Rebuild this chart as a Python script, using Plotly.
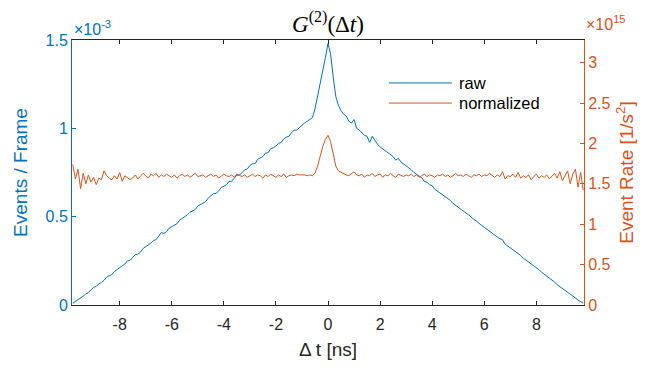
import plotly.graph_objects as go

# time grid (ns), step 0.1 from -9.8 to 9.8
t_start, t_step, n_pts = -9.8, 0.1, 197
dt = [round(t_start + i * t_step, 1) for i in range(n_pts)]

# raw coincidences, in units of 1e-3 events / frame
raw_e3 = [
    0.010, 0.020, 0.030, 0.035, 0.050, 0.062, 0.070, 0.085, 0.100, 0.105,
    0.120, 0.128, 0.140, 0.158, 0.165, 0.172, 0.190, 0.200, 0.215, 0.222,
    0.232, 0.250, 0.252, 0.270, 0.285, 0.288, 0.300, 0.320, 0.330, 0.335,
    0.350, 0.365, 0.370, 0.390, 0.410, 0.405, 0.415, 0.435, 0.445, 0.452,
    0.460, 0.480, 0.490, 0.495, 0.510, 0.525, 0.535, 0.540, 0.560, 0.570,
    0.580, 0.585, 0.605, 0.615, 0.630, 0.632, 0.645, 0.665, 0.672, 0.680,
    0.700, 0.700, 0.718, 0.735, 0.735, 0.752, 0.765, 0.770, 0.790, 0.800,
    0.800, 0.825, 0.835, 0.840, 0.860, 0.862, 0.885, 0.890, 0.900, 0.915,
    0.920, 0.940, 0.950, 0.955, 0.975, 0.990, 0.990, 1.005, 1.020, 1.030,
    1.040, 1.050, 1.060, 1.110, 1.180, 1.250, 1.310, 1.400, 1.480, 1.420,
    1.290, 1.180, 1.130, 1.100, 1.080, 1.070, 1.040, 1.030, 1.050, 1.000,
    0.990, 0.975, 0.960, 0.955, 0.920, 0.955, 0.930, 0.910, 0.895, 0.885,
    0.875, 0.860, 0.850, 0.840, 0.820, 0.830, 0.810, 0.800, 0.787, 0.775,
    0.765, 0.750, 0.740, 0.725, 0.720, 0.700, 0.695, 0.680, 0.675, 0.655,
    0.645, 0.635, 0.620, 0.610, 0.600, 0.592, 0.575, 0.565, 0.555, 0.545,
    0.530, 0.520, 0.510, 0.495, 0.485, 0.475, 0.460, 0.450, 0.440, 0.430,
    0.420, 0.405, 0.400, 0.385, 0.375, 0.370, 0.345, 0.335, 0.325, 0.310,
    0.300, 0.290, 0.280, 0.265, 0.255, 0.245, 0.232, 0.220, 0.210, 0.200,
    0.185, 0.175, 0.165, 0.150, 0.140, 0.130, 0.115, 0.105, 0.095, 0.085,
    0.070, 0.060, 0.050, 0.040, 0.028, 0.018, 0.010,
]

# normalized event rate, in units of 1e15 1/s^2
norm_e15 = [
    1.74, 1.56, 1.68, 1.44, 1.63, 1.50, 1.61, 1.52, 1.58, 1.49,
    1.57, 1.55, 1.66, 1.60, 1.57, 1.55, 1.60, 1.56, 1.64, 1.53,
    1.60, 1.58, 1.55, 1.57, 1.61, 1.56, 1.59, 1.63, 1.60, 1.57,
    1.62, 1.60, 1.63, 1.58, 1.61, 1.59, 1.62, 1.60, 1.58, 1.61,
    1.57, 1.60, 1.62, 1.59, 1.61, 1.58, 1.60, 1.63, 1.59, 1.60,
    1.61, 1.58, 1.60, 1.62, 1.59, 1.61, 1.57, 1.60, 1.62, 1.60,
    1.59, 1.61, 1.58, 1.62, 1.60, 1.59, 1.61, 1.58, 1.60, 1.62,
    1.59, 1.61, 1.60, 1.57, 1.61, 1.59, 1.62, 1.60, 1.58, 1.61,
    1.59, 1.62, 1.58, 1.60, 1.61, 1.60, 1.62, 1.61, 1.61, 1.61,
    1.60, 1.61, 1.60, 1.63, 1.72, 1.85, 1.96, 2.05, 2.10, 2.02,
    1.88, 1.72, 1.66, 1.64, 1.62, 1.61, 1.60, 1.63, 1.65, 1.61,
    1.60, 1.62, 1.58, 1.61, 1.60, 1.63, 1.59, 1.61, 1.62, 1.58,
    1.61, 1.60, 1.63, 1.60, 1.58, 1.62, 1.60, 1.59, 1.61, 1.60,
    1.62, 1.59, 1.61, 1.58, 1.60, 1.62, 1.59, 1.61, 1.60, 1.58,
    1.61, 1.60, 1.62, 1.59, 1.61, 1.58, 1.60, 1.63, 1.60, 1.61,
    1.59, 1.62, 1.60, 1.58, 1.61, 1.60, 1.62, 1.59, 1.61, 1.60,
    1.63, 1.60, 1.58, 1.61, 1.59, 1.65, 1.56, 1.60, 1.59, 1.62,
    1.58, 1.64, 1.57, 1.60, 1.58, 1.61, 1.55, 1.59, 1.62, 1.57,
    1.60, 1.58, 1.61, 1.56, 1.59, 1.63, 1.57, 1.65, 1.54, 1.60,
    1.66, 1.50, 1.62, 1.68, 1.46, 1.64, 1.42,
]

x_ticks = [-8, -6, -4, -2, 0, 2, 4, 6, 8]
x_ticklabels = ["-8", "-6", "-4", "-2", "0", "2", "4", "6", "8"]
left_ticks = [0, 0.5, 1, 1.5]
left_ticklabels = ["0", "0.5", "1", "1.5"]
right_ticks = [0, 0.5, 1, 1.5, 2, 2.5, 3]
right_ticklabels = ["0", "0.5", "1", "1.5", "2", "2.5", "3"]
series_names = ["raw", "normalized"]

BLUE = "#0072BD"
ORANGE = "#D95319"
DARK = "#262626"
FONT = "Liberation Sans, Arial, Helvetica, sans-serif"

raw = [v * 1e-3 for v in raw_e3]
norm = [v * 1e15 for v in norm_e15]

fig = go.Figure()
fig.add_trace(go.Scatter(x=dt, y=raw, mode="lines", name=series_names[0],
                         line=dict(color=BLUE, width=1), showlegend=False))
fig.add_trace(go.Scatter(x=dt, y=norm, mode="lines", name=series_names[1],
                         line=dict(color=ORANGE, width=1), yaxis="y2",
                         showlegend=False))

fig.update_layout(
    width=640, height=361,
    margin=dict(l=64, r=64, t=32, b=64),
    paper_bgcolor="white", plot_bgcolor="white",
    font=dict(family=FONT, size=16, color=DARK),
    xaxis=dict(range=[-9.83, 9.83], tickvals=x_ticks, ticktext=x_ticklabels,
               ticks="inside", ticklen=4,
               tickcolor=DARK, showline=True, linecolor=DARK, linewidth=1,
               mirror="ticks", showgrid=False, zeroline=False,
               ticklabelstandoff=5,
               tickfont=dict(size=16, color=DARK),
               title=dict(text="Δ t [ns]", font=dict(size=19, color=DARK), standoff=10)),
    yaxis=dict(range=[0, 1.5e-3], tickvals=[v * 1e-3 for v in left_ticks],
               ticktext=left_ticklabels, ticks="inside", ticklen=4, tickcolor=BLUE,
               showline=True, linecolor=BLUE, linewidth=1, showgrid=False,
               zeroline=False, tickfont=dict(size=16, color=BLUE),
               title=dict(text="Events / Frame", font=dict(size=19, color=BLUE), standoff=12)),
    yaxis2=dict(range=[0, 3.28e15], tickvals=[v * 1e15 for v in right_ticks],
                ticktext=right_ticklabels, overlaying="y", side="right",
                ticks="inside", ticklen=4, tickcolor=ORANGE, showline=True,
                linecolor=ORANGE, linewidth=1, showgrid=False, zeroline=False,
                tickfont=dict(size=16, color=ORANGE),
                title=dict(text="Event Rate [1/s<sup>2</sup>]", font=dict(size=19, color=ORANGE), standoff=10)),
)

# title as annotation, kept fully inside the page
fig.add_annotation(text="<i>G</i><sup>(2)</sup>(Δ<i>t</i>)", xref="paper", yref="paper",
                   x=0.5, y=1.0, xanchor="center", yanchor="bottom", showarrow=False,
                   yshift=1,
                   font=dict(family="Liberation Serif, DejaVu Serif, serif", size=23, color="black"))

# exponent labels
fig.add_annotation(text="×10<sup>-3</sup>", xref="paper", yref="paper", x=0.0, y=1.0,
                   xanchor="left", yanchor="bottom", showarrow=False,
                   font=dict(size=16, color=BLUE), yshift=0)
fig.add_annotation(text="×10<sup>15</sup>", xref="paper", yref="paper", x=1.0, y=1.0,
                   xanchor="left", yanchor="bottom", showarrow=False,
                   font=dict(size=16, color=ORANGE), yshift=5)

# legend drawn as line samples and labels
leg_y = [0.838, 0.762]
leg_colors = [BLUE, ORANGE]
for name, yy, col in zip(series_names, leg_y, leg_colors):
    fig.add_shape(type="line", xref="paper", yref="paper", x0=0.619, x1=0.742,
                  y0=yy, y1=yy, line=dict(color=col, width=1))
    fig.add_annotation(text=name, xref="paper", yref="paper", x=0.752, y=yy,
                       xanchor="left", yanchor="middle", showarrow=False,
                       font=dict(size=16.5, color="black"))

fig.write_html("out.html")
